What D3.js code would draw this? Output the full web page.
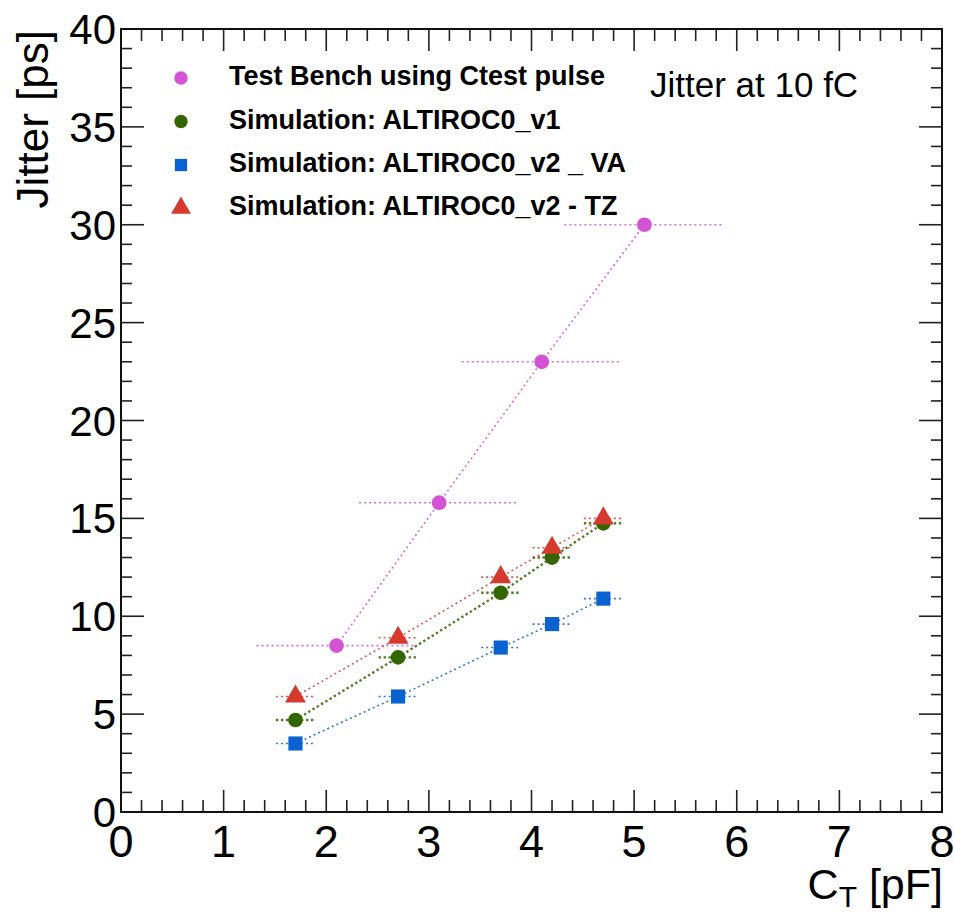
<!DOCTYPE html>
<html>
<head>
<meta charset="utf-8">
<script src="https://cdn.jsdelivr.net/npm/d3@7"></script>
<style>
  html, body { margin: 0; padding: 0; background: #fff; }
  svg { display: block; }
  text { font-family: "Liberation Sans", Arial, Helvetica, sans-serif; }
</style>
</head>
<body>
<svg id="chart" width="954" height="913"></svg>
<script>
// ---- data ----
const seriesNames = [
  "Test Bench using Ctest pulse",
  "Simulation: ALTIROC0_v1",
  "Simulation: ALTIROC0_v2 _ VA",
  "Simulation: ALTIROC0_v2 - TZ"
];
const benchX = [2.1, 3.1, 4.1, 5.1];
const benchY = [8.5, 15.8, 23.0, 30.0];
const benchXErr = [0.78, 0.78, 0.78, 0.78];

const simX = [1.7, 2.7, 3.7, 4.2, 4.7];
const simXErr = [0.19, 0.19, 0.19, 0.19, 0.19];
const v1Y = [4.7, 7.9, 11.2, 13.0, 14.75];
const vaY = [3.5, 5.9, 8.4, 9.6, 10.9];
const tzY = [5.9, 8.9, 12.0, 13.5, 15.0];

const xTicks = [0, 1, 2, 3, 4, 5, 6, 7, 8];
const yTicks = [0, 5, 10, 15, 20, 25, 30, 35, 40];

// ---- layout ----
const svg = d3.select("#chart");
const L = 121, R = 942, T = 29, B = 812;
const x = d3.scaleLinear().domain([0, 8]).range([L, R]);
const y = d3.scaleLinear().domain([0, 40]).range([B, T]);

const colors = {
  bench: "#d452d4",
  v1: "#336600",
  va: "#0a62d0",
  tz: "#d63a2e"
};

// ---- frame & ticks ----
const frame = svg.append("g");
const minorX = d3.range(0, 8.0001, 0.2);
const minorY = d3.range(0, 40.0001, 1);
function isMajor(v, step) { return Math.abs(v / step - Math.round(v / step)) < 1e-6; }

minorX.forEach(v => {
  const len = isMajor(v, 1) ? 22 : 12;
  frame.append("line").attr("x1", x(v)).attr("x2", x(v)).attr("y1", B).attr("y2", B - len)
    .attr("stroke", "#222").attr("stroke-width", 1.6);
  frame.append("line").attr("x1", x(v)).attr("x2", x(v)).attr("y1", T).attr("y2", T + len)
    .attr("stroke", "#222").attr("stroke-width", 1.6);
});
minorY.forEach(v => {
  const len = isMajor(v, 5) ? 23 : 11;
  frame.append("line").attr("x1", L).attr("x2", L + len).attr("y1", y(v)).attr("y2", y(v))
    .attr("stroke", "#222").attr("stroke-width", 1.6);
  frame.append("line").attr("x1", R).attr("x2", R - len).attr("y1", y(v)).attr("y2", y(v))
    .attr("stroke", "#222").attr("stroke-width", 1.6);
});
frame.append("rect").attr("x", L).attr("y", T).attr("width", R - L).attr("height", B - T)
  .attr("fill", "none").attr("stroke", "#111").attr("stroke-width", 2);

// tick labels
svg.append("g").selectAll("text").data(xTicks).join("text")
  .attr("x", d => x(d)).attr("y", 857)
  .attr("text-anchor", "middle").attr("font-size", 45).attr("fill", "#000")
  .text(d => d);
svg.append("g").selectAll("text").data(yTicks).join("text")
  .attr("x", 116).attr("y", d => y(d) + 15)
  .attr("text-anchor", "end").attr("font-size", 42).attr("fill", "#000")
  .text(d => d);

// axis titles
const xt = svg.append("text").attr("x", 943).attr("y", 899).attr("text-anchor", "end")
  .attr("font-size", 43).attr("fill", "#000");
xt.append("tspan").text("C");
xt.append("tspan").attr("font-size", 30).attr("dy", 8).text("T");
xt.append("tspan").attr("dy", -8).text(" [pF]");

svg.append("text").attr("transform", "translate(48,30) rotate(-90)")
  .attr("text-anchor", "end").attr("font-size", 44).attr("fill", "#000")
  .text("Jitter [ps]");

svg.append("text").attr("x", 650).attr("y", 97).attr("font-size", 35).attr("fill", "#000")
  .text("Jitter at 10 fC");

// ---- series ----
const plot = svg.append("g");

function drawSeries(xs, ys, xerr, color, width, dash) {
  const pts = xs.map((d, i) => [d, ys[i], xerr[i]]);
  plot.append("path").datum(pts)
    .attr("d", d3.line().x(d => x(d[0])).y(d => y(d[1])))
    .attr("fill", "none").attr("stroke", color).attr("stroke-width", width)
    .attr("stroke-dasharray", dash).attr("opacity", 0.85);
  plot.append("g").selectAll("line").data(pts).join("line")
    .attr("x1", d => x(d[0] - d[2])).attr("x2", d => x(d[0] + d[2]))
    .attr("y1", d => y(d[1])).attr("y2", d => y(d[1]))
    .attr("stroke", color).attr("stroke-width", width)
    .attr("stroke-dasharray", dash).attr("opacity", 0.85);
  return pts;
}

const benchPts = drawSeries(benchX, benchY, benchXErr, colors.bench, 1.6, "2,3");
const vaPts = drawSeries(simX, vaY, simXErr, colors.va, 1.6, "2,3");
const v1Pts = drawSeries(simX, v1Y, simXErr, colors.v1, 2.4, "2.4,2.6");
const tzPts = drawSeries(simX, tzY, simXErr, colors.tz, 1.6, "2,3");

const circle = d3.symbol().type(d3.symbolCircle).size(170);
const square = d3.symbol().type(d3.symbolSquare).size(200);
const tri = d3.symbol().type(d3.symbolTriangle).size(190);

function drawMarkers(pts, sym, color) {
  plot.append("g").selectAll("path").data(pts).join("path")
    .attr("transform", d => `translate(${x(d[0])},${y(d[1])})`)
    .attr("d", sym).attr("fill", color);
}
drawMarkers(benchPts, circle, colors.bench);
drawMarkers(v1Pts, circle, colors.v1);
drawMarkers(vaPts, square, colors.va);
drawMarkers(tzPts, tri, colors.tz);

// ---- legend ----
const legendSyms = [d3.symbol().type(d3.symbolCircle).size(140), d3.symbol().type(d3.symbolCircle).size(140),
  d3.symbol().type(d3.symbolSquare).size(150), d3.symbol().type(d3.symbolTriangle).size(170)];
const legendColors = [colors.bench, colors.v1, colors.va, colors.tz];
const legendY = [78, 121.5, 165, 208];
const lg = svg.append("g");
seriesNames.forEach((name, i) => {
  lg.append("path").attr("transform", `translate(181,${legendY[i]})`)
    .attr("d", legendSyms[i]).attr("fill", legendColors[i]);
  lg.append("text").attr("x", 229).attr("y", legendY[i] + 7)
    .attr("font-size", 27).attr("font-weight", "bold").attr("fill", "#000")
    .text(name);
});
</script>
</body>
</html>
